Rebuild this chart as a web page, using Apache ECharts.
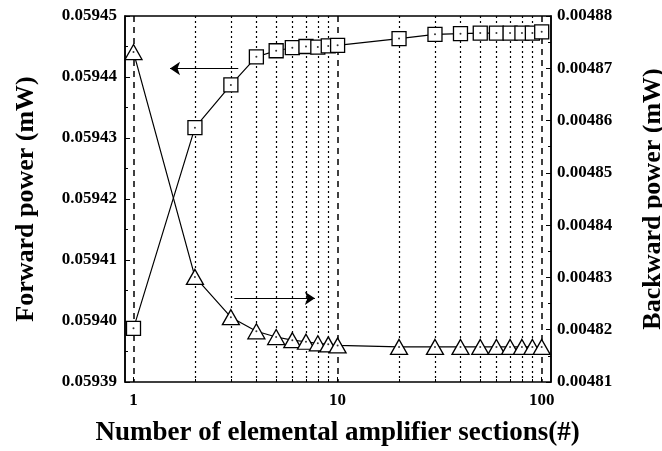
<!DOCTYPE html>
<html>
<head>
<meta charset="utf-8">
<script src="https://cdn.jsdelivr.net/npm/echarts@6/dist/echarts.min.js"></script>
<style>
html,body{margin:0;padding:0;background:#fff;}
#c{width:662px;height:451px;}
</style>
</head>
<body>
<div id="c"></div>
<script>
// Number of elemental amplifier sections
const sections = [1, 2, 3, 4, 5, 6, 7, 8, 9, 10, 20, 30, 40, 50, 60, 70, 80, 90, 100];
// Forward power (mW), left axis
const forwardPower = [0.0593988, 0.0594317, 0.0594387, 0.0594433, 0.0594443, 0.0594448, 0.0594450, 0.0594449, 0.0594451, 0.0594452,
                      0.0594463, 0.0594470, 0.0594471, 0.0594472, 0.0594472, 0.0594472, 0.0594472, 0.0594472, 0.0594474];
// Backward power (mW), right axis
const backwardPower = [0.0048731, 0.0048301, 0.0048224, 0.0048197, 0.0048186, 0.0048180, 0.0048177, 0.0048174, 0.0048172, 0.0048170,
                       0.0048167, 0.0048167, 0.0048167, 0.0048167, 0.0048167, 0.0048167, 0.0048167, 0.0048167, 0.0048167];
// Axis ranges / ticks
const leftRange = [0.05939, 0.05945];
const rightRange = [0.00481, 0.00488];
const yStep = 0.00001;
const xRange = [1, 100];
// Arrow annotations (data coordinates)
const arrowForward = [[3.26, 0.0594414], [1.51, 0.0594414]];
const arrowBackward = [[3.12, 0.0048260], [7.74, 0.0048260]];

const FONT = 'Liberation Serif';
const chart = echarts.init(document.getElementById('c'), null, {renderer: 'canvas'});

const fwdData = sections.map((x, i) => [x, forwardPower[i]]);
const bwdData = sections.map((x, i) => [x, backwardPower[i]]);

const labelStyle = {fontFamily: FONT, fontWeight: 'bold', fontSize: 17, color: '#000'};
const nameStyleY = {fontFamily: FONT, fontWeight: 'bold', fontSize: 26, color: '#000'};
const nameStyleX = {fontFamily: FONT, fontWeight: 'bold', fontSize: 27, color: '#000'};

function arrowMarkLine(pts) {
  return {
    silent: true, symbol: ['none', 'arrow'], symbolSize: 10,
    label: {show: false},
    lineStyle: {color: '#000', width: 1.2, type: 'solid'},
    itemStyle: {color: '#000'},
    data: [[{coord: pts[0]}, {coord: pts[1]}]]
  };
}

chart.setOption({
  animation: false,
  backgroundColor: '#fff',
  grid: [
    {left: 125, right: 111, top: 16, bottom: 69, containLabel: false, outerBoundsMode: 'none',
     show: true, borderColor: '#000', borderWidth: 1.5, backgroundColor: 'transparent'},
    {left: 133.5, right: 120.3, top: 16, bottom: 69, containLabel: false, outerBoundsMode: 'none'}
  ],
  xAxis: [
    {gridIndex: 0, type: 'value', show: false, min: 0, max: 1},
    {
      gridIndex: 1, type: 'log', logBase: 10, min: xRange[0], max: xRange[1],
      position: 'bottom',
      name: 'Number of elemental amplifier sections(#)',
      nameLocation: 'middle', nameGap: 38, nameTextStyle: nameStyleX,
      axisLine: {show: false},
      axisTick: {show: true, inside: true, length: 5, lineStyle: {color: '#000', width: 1}},
      minorTick: {show: true, splitNumber: 9, length: 3, lineStyle: {color: '#000', width: 1}},
      axisLabel: Object.assign({margin: 10, formatter: v => String(v)}, labelStyle),
      splitLine: {show: true, lineStyle: {color: '#000', width: 1.5, type: [6, 5]}},
      minorSplitLine: {show: true, lineStyle: {color: '#000', width: 1.2, type: [2, 3]}}
    }
  ],
  yAxis: [
    {
      gridIndex: 0, type: 'value', position: 'left', min: leftRange[0], max: leftRange[1], interval: yStep,
      name: 'Forward power (mW)', nameLocation: 'middle', nameGap: 86, nameRotate: 90, nameTextStyle: nameStyleY,
      axisLine: {show: true, lineStyle: {color: '#000', width: 1.5}},
      axisTick: {show: true, inside: true, length: 5, lineStyle: {color: '#000', width: 1}},
      minorTick: {show: true, splitNumber: 2, length: 3, lineStyle: {color: '#000', width: 1}},
      axisLabel: Object.assign({margin: 8, formatter: v => v.toFixed(5)}, labelStyle),
      splitLine: {show: false}
    },
    {
      gridIndex: 0, type: 'value', position: 'right', min: rightRange[0], max: rightRange[1], interval: yStep,
      name: 'Backward power (mW)', nameLocation: 'middle', nameGap: 89, nameRotate: 90, nameTextStyle: nameStyleY,
      axisLine: {show: true, lineStyle: {color: '#000', width: 1.5}},
      axisTick: {show: true, inside: true, length: 5, lineStyle: {color: '#000', width: 1}},
      minorTick: {show: true, splitNumber: 2, length: 3, lineStyle: {color: '#000', width: 1}},
      axisLabel: Object.assign({margin: 6, formatter: v => v.toFixed(5)}, labelStyle),
      splitLine: {show: false}
    },
    {gridIndex: 1, type: 'value', show: false, min: leftRange[0], max: leftRange[1], splitLine: {show: false}},
    {gridIndex: 1, type: 'value', show: false, min: rightRange[0], max: rightRange[1], splitLine: {show: false}}
  ],
  series: [
    {
      name: 'Forward', type: 'line', xAxisIndex: 1, yAxisIndex: 2, data: fwdData,
      symbol: 'rect', symbolSize: 14, showAllSymbol: true,
      lineStyle: {color: '#000', width: 1.2},
      itemStyle: {color: '#fff', borderColor: '#000', borderWidth: 1.3},
      z: 3,
      markLine: arrowMarkLine(arrowForward)
    },
    {
      name: 'Backward', type: 'line', xAxisIndex: 1, yAxisIndex: 3, data: bwdData,
      symbol: 'triangle', symbolSize: [17, 15], showAllSymbol: true,
      lineStyle: {color: '#000', width: 1.2},
      itemStyle: {color: '#fff', borderColor: '#000', borderWidth: 1.3},
      z: 3,
      markLine: arrowMarkLine(arrowBackward)
    },
    {
      name: 'ForwardDots', type: 'scatter', xAxisIndex: 1, yAxisIndex: 2, data: fwdData,
      symbol: 'circle', symbolSize: 2, itemStyle: {color: '#000'}, z: 5, silent: true
    },
    {
      name: 'BackwardDots', type: 'scatter', xAxisIndex: 1, yAxisIndex: 3, data: bwdData,
      symbol: 'circle', symbolSize: 2, itemStyle: {color: '#000'}, z: 5, silent: true
    }
  ]
});
</script>
</body>
</html>
